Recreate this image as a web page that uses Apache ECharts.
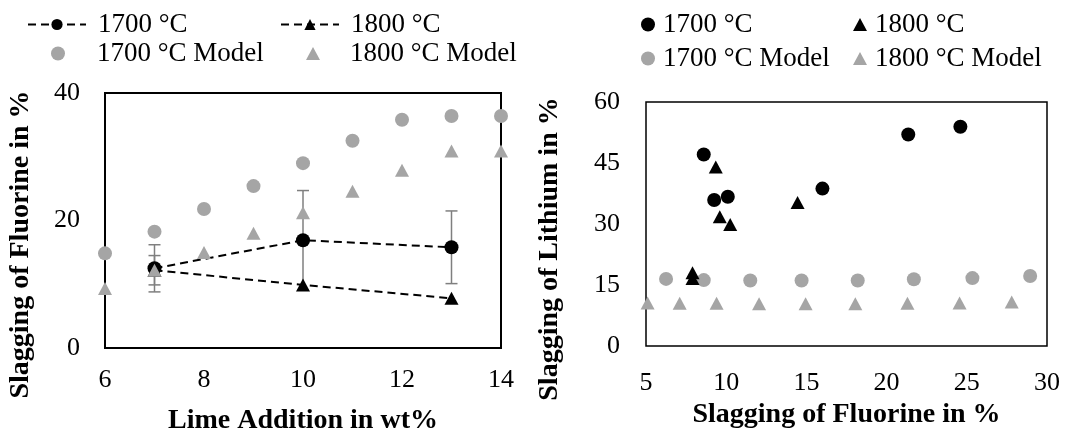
<!DOCTYPE html>
<html>
<head>
<meta charset="utf-8">
<script src="https://cdn.jsdelivr.net/npm/echarts@6/dist/echarts.min.js"></script>
<style>
html,body{margin:0;padding:0;background:#fff;}
#c{width:1067px;height:434px;}
</style>
</head>
<body>
<div id="c"></div>
<script>
// ---- Left chart data ----
var limeX = [7, 10, 13];
var f1700 = [12.5, 16.9, 15.8];
var f1700Err = [3.7, 7.8, 5.7];
var f1800 = [12.2, 9.9, 7.8];
var f1800Err = [2.3, 0, 0];
var modelX = [6, 7, 8, 9, 10, 11, 12, 13, 14];
var f1700Model = [14.85, 18.25, 21.8, 25.4, 29.0, 32.5, 35.8, 36.4, 36.4];
var f1800Model = [9.35, 12.2, 15.0, 18.0, 21.2, 24.6, 27.9, 30.9, 30.9];

// ---- Right chart data ----
var li1700F = [8.6, 9.25, 10.1, 16.0, 21.35, 24.6];
var li1700 = [47.1, 35.9, 36.7, 38.7, 52.0, 53.9];
var li1800F = [7.9, 7.9, 9.35, 9.6, 10.25, 14.45];
var li1800 = [18.0, 16.6, 44.0, 31.8, 29.9, 35.3];
var liM1700F = [6.25, 8.6, 11.5, 14.7, 18.2, 21.7, 25.35, 28.95];
var liM1700 = [16.5, 16.2, 16.1, 16.1, 16.1, 16.4, 16.7, 17.2];
var liM1800F = [5.1, 7.1, 9.4, 12.05, 14.95, 18.05, 21.3, 24.55, 27.8];
var liM1800 = [10.6, 10.5, 10.5, 10.4, 10.4, 10.4, 10.5, 10.6, 10.8];

var names = ['1700 °C', '1800 °C', '1700 °C Model', '1800 °C Model'];

function zip(a, b) { return a.map(function (v, i) { return [v, b[i]]; }); }
function errData(x, y, e) { return x.map(function (v, i) { return [v, y[i] - e[i], y[i] + e[i]]; }); }

var FONT = 'Liberation Serif';
var BLACK = '#000000';
var GREY = '#a5a5a5';
var ERRC = '#7f7f7f';

function errorRender(params, api) {
  var lo = api.coord([api.value(0), api.value(1)]);
  var hi = api.coord([api.value(0), api.value(2)]);
  if (Math.abs(lo[1] - hi[1]) < 1) return null;
  var w = 6;
  var st = { stroke: ERRC, lineWidth: 1.5 };
  return {
    type: 'group',
    children: [
      { type: 'line', shape: { x1: lo[0], y1: lo[1], x2: hi[0], y2: hi[1] }, style: st },
      { type: 'line', shape: { x1: lo[0] - w, y1: lo[1], x2: lo[0] + w, y2: lo[1] }, style: st },
      { type: 'line', shape: { x1: hi[0] - w, y1: hi[1], x2: hi[0] + w, y2: hi[1] }, style: st }
    ]
  };
}

var tickLabel = { color: '#000', fontFamily: FONT, fontSize: 26 };
var nameStyle = { color: '#000', fontFamily: FONT, fontSize: 28, fontWeight: 'bold' };

function leg(name, left, top, opts) {
  return {
    data: [opts.icon ? { name: name, icon: opts.icon } : name],
    left: left, top: top,
    itemWidth: opts.w, itemHeight: opts.h,
    textStyle: { color: '#000', fontFamily: FONT, fontSize: 27, padding: [0, 0, 0, opts.pad || 0] },
    selectedMode: false
  };
}

var chart = echarts.init(document.getElementById('c'), null, { renderer: 'canvas' });
var option = {
  animation: false,
  backgroundColor: '#fff',
  legend: [
    leg(names[0], 22, 6, { w: 58, h: 14, pad: 7 }),
    leg(names[1], 275, 6, { w: 58, h: 14, pad: 7 }),
    leg(names[2], 46, 35, { icon: 'circle', w: 14, h: 14, pad: 27 }),
    leg(names[3], 301, 35, { icon: 'triangle', w: 14, h: 13, pad: 25 }),
    leg(names[0], 636, 6, { icon: 'circle', w: 14, h: 14, pad: 3 }),
    leg(names[1], 848, 6, { icon: 'triangle', w: 14, h: 13, pad: 3 }),
    leg(names[2], 636, 40, { icon: 'circle', w: 14, h: 14, pad: 3 }),
    leg(names[3], 848, 40, { icon: 'triangle', w: 14, h: 13, pad: 3 })
  ],
  grid: [
    { left: 105, top: 93, width: 396, height: 255, show: true, borderColor: '#000', borderWidth: 2, backgroundColor: 'transparent', outerBoundsMode: 'none', containLabel: false },
    { left: 646, top: 102, width: 401, height: 244, show: true, borderColor: '#000', borderWidth: 1.5, backgroundColor: 'transparent', outerBoundsMode: 'none', containLabel: false }
  ],
  xAxis: [
    {
      gridIndex: 0, type: 'value', min: 6, max: 14, interval: 2,
      axisLine: { show: false }, axisTick: { show: false }, splitLine: { show: false },
      axisLabel: Object.assign({ margin: 19 }, tickLabel),
      name: 'Lime Addition in wt%', nameLocation: 'middle', nameGap: 59, nameTextStyle: nameStyle
    },
    {
      gridIndex: 1, type: 'value', min: 5, max: 30, interval: 5,
      axisLine: { show: false }, axisTick: { show: false }, splitLine: { show: false },
      axisLabel: Object.assign({ margin: 24 }, tickLabel),
      name: 'Slagging of Fluorine in %', nameLocation: 'middle', nameGap: 52, nameTextStyle: nameStyle
    }
  ],
  yAxis: [
    {
      gridIndex: 0, type: 'value', min: 0, max: 40, interval: 20,
      axisLine: { show: false }, axisTick: { show: false }, splitLine: { show: false },
      axisLabel: Object.assign({ margin: 25 }, tickLabel),
      name: 'Slagging of Fluorine in %', nameLocation: 'middle', nameGap: 70,
      nameTextStyle: Object.assign({ padding: [0, 48, 0, 0] }, nameStyle)
    },
    {
      gridIndex: 1, type: 'value', min: 0, max: 60, interval: 15,
      axisLine: { show: false }, axisTick: { show: false }, splitLine: { show: false },
      axisLabel: Object.assign({ margin: 26 }, tickLabel),
      name: 'Slagging of Lithium in %', nameLocation: 'middle', nameGap: 82,
      nameTextStyle: Object.assign({ padding: [0, 50, 0, 0] }, nameStyle)
    }
  ],
  series: [
    // left chart
    { type: 'custom', name: 'err1700', xAxisIndex: 0, yAxisIndex: 0, renderItem: errorRender, data: errData(limeX, f1700, f1700Err), z: 1, silent: true },
    { type: 'custom', name: 'err1800', xAxisIndex: 0, yAxisIndex: 0, renderItem: errorRender, data: errData(limeX, f1800, f1800Err), z: 1, silent: true },
    {
      type: 'line', name: names[0], xAxisIndex: 0, yAxisIndex: 0, data: zip(limeX, f1700),
      symbol: 'circle', symbolSize: 14, showAllSymbol: true,
      lineStyle: { color: BLACK, width: 2, type: [8, 5] }, itemStyle: { color: BLACK }, z: 2
    },
    {
      type: 'line', name: names[1], xAxisIndex: 0, yAxisIndex: 0, data: zip(limeX, f1800),
      symbol: 'triangle', symbolSize: [14, 13], showAllSymbol: true,
      lineStyle: { color: BLACK, width: 2, type: [8, 5] }, itemStyle: { color: BLACK }, z: 2
    },
    {
      type: 'scatter', name: names[2], xAxisIndex: 0, yAxisIndex: 0, data: zip(modelX, f1700Model),
      symbol: 'circle', symbolSize: 14, itemStyle: { color: GREY, opacity: 1 }, z: 3
    },
    {
      type: 'scatter', name: names[3], xAxisIndex: 0, yAxisIndex: 0, data: zip(modelX, f1800Model),
      symbol: 'triangle', symbolSize: [14, 13], itemStyle: { color: GREY, opacity: 1 }, z: 3
    },
    // right chart
    {
      type: 'scatter', name: names[0], xAxisIndex: 1, yAxisIndex: 1, data: zip(li1700F, li1700),
      symbol: 'circle', symbolSize: 14, itemStyle: { color: BLACK, opacity: 1 }, z: 2
    },
    {
      type: 'scatter', name: names[1], xAxisIndex: 1, yAxisIndex: 1, data: zip(li1800F, li1800),
      symbol: 'triangle', symbolSize: [14, 13], itemStyle: { color: BLACK, opacity: 1 }, z: 2
    },
    {
      type: 'scatter', name: names[2], xAxisIndex: 1, yAxisIndex: 1, data: zip(liM1700F, liM1700),
      symbol: 'circle', symbolSize: 14, itemStyle: { color: GREY, opacity: 1 }, z: 1
    },
    {
      type: 'scatter', name: names[3], xAxisIndex: 1, yAxisIndex: 1, data: zip(liM1800F, liM1800),
      symbol: 'triangle', symbolSize: [14, 13], itemStyle: { color: GREY, opacity: 1 }, z: 1
    }
  ]
};
chart.setOption(option);
</script>
</body>
</html>
